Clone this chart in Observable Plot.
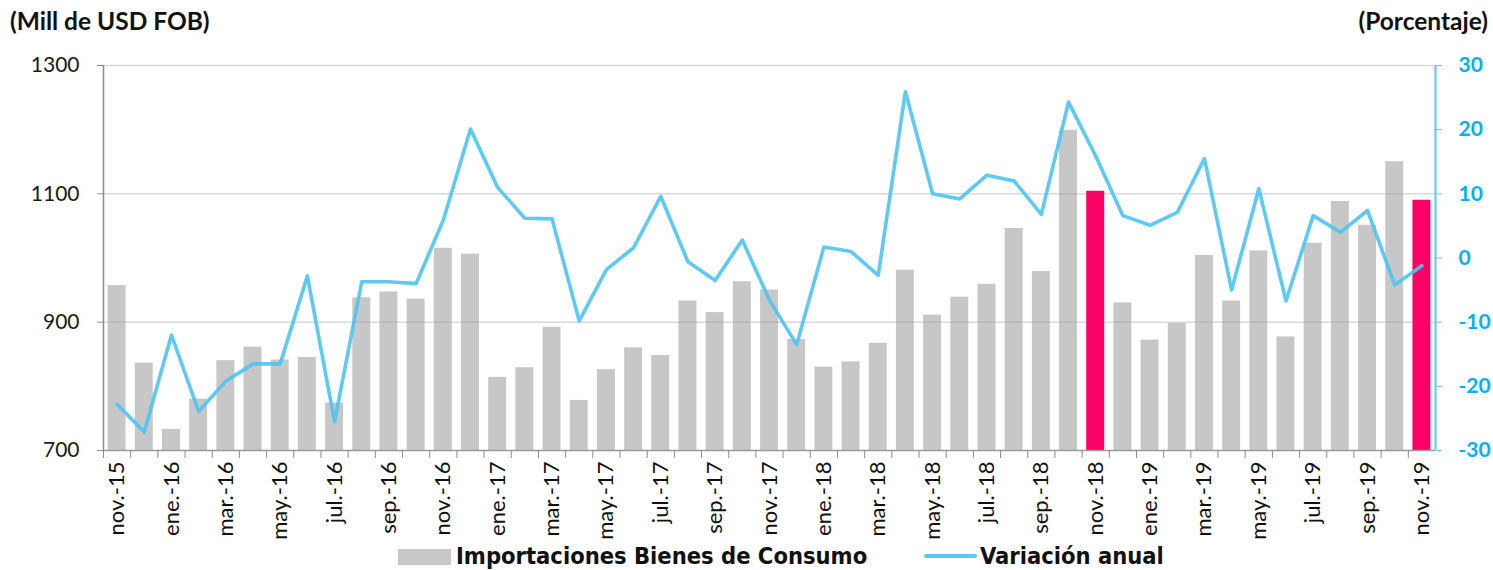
<!DOCTYPE html>
<html><head><meta charset="utf-8">
<script src="https://cdn.jsdelivr.net/npm/d3@7"></script>
<script src="https://cdn.jsdelivr.net/npm/@observablehq/plot@0.6"></script>
<style>
body{margin:0;background:#fff;font-family:Lato,"Open Sans",sans-serif;}
#wrap{position:relative;width:1493px;height:570px;overflow:hidden;background:#fff}
.t{position:absolute;top:6px;font-weight:bold;font-size:24.5px;color:#111;line-height:30px}
#chart{position:absolute;left:0;top:45px}
.lg{position:absolute;font-family:"Liberation Sans Narrow","DejaVu Sans Condensed",sans-serif;font-weight:bold;font-size:23.5px;line-height:26px;color:#111;white-space:nowrap}
</style></head><body>
<div id="wrap">
<div class="t" style="left:10px">(Mill de USD FOB)</div>
<div class="t" style="right:5px">(Porcentaje)</div>
<div id="chart"></div>
<div style="position:absolute;left:398px;top:549px;width:53px;height:16px;background:#c8c8c8"></div>
<div class="lg" style="left:456px;top:543px">Importaciones Bienes de Consumo</div>
<div style="position:absolute;left:924px;top:554px;width:53px;height:4px;border-radius:2px;background:#5bc8f5"></div>
<div class="lg" style="left:980px;top:543px">Variación anual</div>
</div>
<script>
const months = ["nov.-15","dic.-15","ene.-16","feb.-16","mar.-16","abr.-16","may.-16","jun.-16","jul.-16","ago.-16","sep.-16","oct.-16",
"nov.-16","dic.-16","ene.-17","feb.-17","mar.-17","abr.-17","may.-17","jun.-17","jul.-17","ago.-17","sep.-17","oct.-17",
"nov.-17","dic.-17","ene.-18","feb.-18","mar.-18","abr.-18","may.-18","jun.-18","jul.-18","ago.-18","sep.-18","oct.-18",
"nov.-18","dic.-18","ene.-19","feb.-19","mar.-19","abr.-19","may.-19","jun.-19","jul.-19","ago.-19","sep.-19","oct.-19","nov.-19"];
const imports = [957,836,733,780,840,861,841,845,774,938,947,936,
1015,1006,814,829,892,778,826,860,848,933,915,963,
950,873,830,838,867,981,911,939,959,1046,979,1199,
1104,930,872,898,1004,933,1011,877,1023,1088,1051,1150,1090];
const variation = [-22.8,-27.1,-12.0,-23.9,-19.2,-16.5,-16.5,-2.8,-25.5,-3.7,-3.7,-4.0,
5.9,20.1,11.0,6.2,6.1,-9.8,-1.8,1.6,9.6,-0.6,-3.5,2.8,
-6.6,-13.5,1.7,1.0,-2.7,25.9,10.0,9.2,12.9,12.0,6.8,24.3,
15.9,6.6,5.1,7.1,15.5,-5.0,10.8,-6.7,6.6,4.0,7.4,-4.2,-1.2];
const highlighted = ["nov.-18","nov.-19"];
const leftTicks = [700,900,1100,1300];
const rightTicks = [-30,-20,-10,0,10,20,30];

const W = 1493, H = 500, ML = 103, MR = 58, MT = 20, MB = 95;
const step = (W - ML - MR) / months.length;
const data = months.map((m, i) => ({month: m, imports: imports[i], variation: variation[i]}));
// right axis (-30..30) is drawn onto the left scale (700..1300)
const toLeft = v => 1000 + v * 10;
const fromLeft = d => String(Math.round((d - 1000) / 10));

const chart = Plot.plot({
  width: W, height: H, marginLeft: ML, marginRight: MR, marginTop: MT, marginBottom: MB,
  style: {fontFamily: "Lato, 'Open Sans', sans-serif", fontSize: "21px", color: "#222", background: "white"},
  x: {type: "band", domain: months, paddingInner: 0.34, paddingOuter: 0.17, round: false, axis: null, label: null},
  y: {domain: [700, 1300], axis: null, label: null},
  marks: [
    Plot.gridY(leftTicks.slice(1), {stroke: "#d9d9d9", strokeOpacity: 1, strokeWidth: 1.5}),
    Plot.barY(data, {filter: d => !highlighted.includes(d.month), x: "month", y1: 700, y2: "imports", fill: "#9e9e9e", fillOpacity: 0.58}),
    Plot.barY(data, {filter: d => highlighted.includes(d.month), x: "month", y1: 700, y2: "imports", fill: "#ff0066"}),
    Plot.line(data, {x: "month", y: d => toLeft(d.variation), stroke: "#4cc4f2", strokeWidth: 3.6, strokeOpacity: 0.9}),
    Plot.ruleY([700], {stroke: "#9a9a9a", strokeWidth: 1.5}),
    Plot.ruleX([months[0]], {y1: 700, y2: 1300, dx: -step / 2, stroke: "#8c8c8c", strokeWidth: 1.5}),
    Plot.ruleX([months[months.length - 1]], {y1: 700, y2: 1300, dx: step / 2, stroke: "#5bc8f5", strokeWidth: 2}),
    Plot.axisY({anchor: "left", ticks: leftTicks, tickFormat: d => String(d), tickSize: 6, tickPadding: 18, stroke: "#8c8c8c", fill: "#1a1a1a", label: null}),
    Plot.axisY({anchor: "right", ticks: rightTicks.map(toLeft), tickFormat: fromLeft, tickSize: 6, tickPadding: 17, stroke: "#5bc8f5", fill: "#00b0f0", fontWeight: "bold", label: null}),
    Plot.axisX({ticks: months, tickSize: 8, tickFormat: () => "", dx: -step / 2, stroke: "#8c8c8c", label: null}),
    Plot.axisX({ticks: months.filter((_, i) => i % 2 === 0), tickSize: 0, tickRotate: -90, tickPadding: 11, fontSize: 22, fill: "#111", label: null})
  ]
});
document.getElementById("chart").appendChild(chart);
</script>
</body></html>
